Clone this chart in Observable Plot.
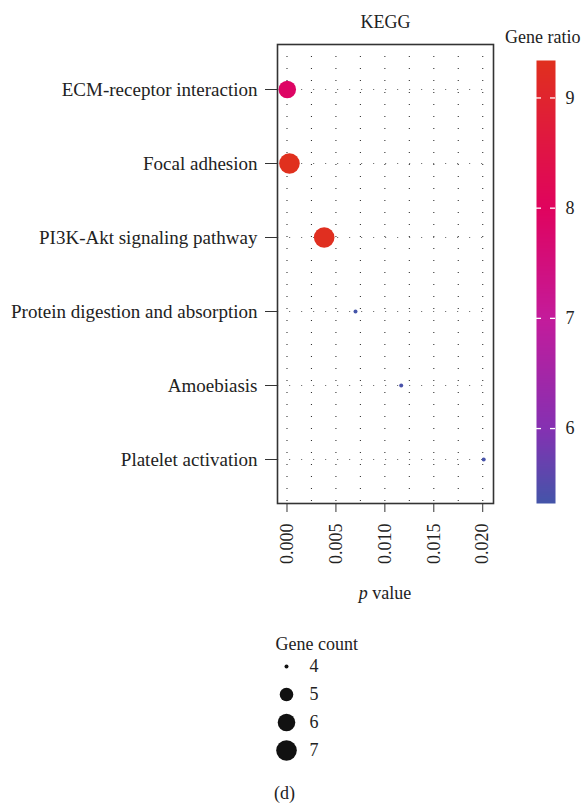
<!DOCTYPE html>
<html>
<head>
<meta charset="utf-8">
<script src="https://cdn.jsdelivr.net/npm/d3@7"></script>
<script src="https://cdn.jsdelivr.net/npm/@observablehq/plot@0.6"></script>
<style>
  body { margin: 0; background: #fff; }
  #chart { position: relative; width: 583px; height: 804px; overflow: hidden;
           font-family: "Liberation Serif", "Times New Roman", serif; color: #222; }
  #chart svg { position: absolute; overflow: visible; }
  .lbl { position: absolute; font-size: 18px; line-height: 18px; white-space: nowrap; }
</style>
</head>
<body>
<div id="chart"></div>
<script>
// KEGG enrichment: pathways, p values, gene counts and gene ratios
const pathways = [
  "ECM-receptor interaction",
  "Focal adhesion",
  "PI3K-Akt signaling pathway",
  "Protein digestion and absorption",
  "Amoebiasis",
  "Platelet activation"
];
const pValues   = [0.00003, 0.00025, 0.0038, 0.0070, 0.01167, 0.0201];
const geneCounts = [6, 7, 7, 4, 4, 4];
const geneRatios = [7.9, 9.34, 9.3, 5.32, 5.38, 5.35];

// axis ticks and grid positions
const pTicks = [0, 0.005, 0.01, 0.015, 0.02];
const pGrid = [0, 0.0025, 0.005, 0.0075, 0.01, 0.0125, 0.015, 0.0175, 0.02];
const ratioTicks = [6, 7, 8, 9];
const countKeys = [4, 5, 6, 7];

// colour ramp for gene ratio (blue → purple → magenta → red)
const ratioStops = [5.32, 6, 7, 8, 9.34];
const ratioColors = ["#4455a9", "#8531b2", "#c41b9b", "#e0035e", "#e0301e"];

const FONT = '"Liberation Serif", "Times New Roman", serif';
const rows = pathways.map((pathway, i) => ({
  pathway, p: pValues[i], count: geneCounts[i], ratio: geneRatios[i]
}));

const colorScale = {type: "linear", domain: ratioStops, range: ratioColors, interpolate: "rgb"};
// area grows with gene count, smallest key still visible
const sizeScale = {type: "sqrt", transform: c => c - 4, range: [2, 10.3]};
const baseStyle = {fontFamily: FONT, fontSize: "18px", color: "#222", background: "transparent"};

const chart = document.getElementById("chart");

// main dot plot
const main = Plot.plot({
  width: 583, height: 620,
  marginLeft: 277, marginRight: 90, marginTop: 44, marginBottom: 117,
  style: baseStyle,
  x: {domain: [-0.00097, 0.0211]},
  y: {type: "point", domain: pathways, padding: 0.6},
  color: colorScale,
  r: sizeScale,
  marks: [
    Plot.ruleX(pGrid, {stroke: "#333", strokeWidth: 1.1, strokeDasharray: "1.1 10.9"}),
    Plot.ruleY(pathways, {stroke: "#777", strokeWidth: 1.2, strokeDasharray: "1.2 10.8"}),
    Plot.frame({stroke: "#333", strokeWidth: 1.6}),
    Plot.axisX(pTicks, {tickFormat: d3.format(".3f"), tickRotate: -90, tickSize: 9, tickPadding: 11, label: null, stroke: "#333"}),
    Plot.axisY({tickSize: 12, tickPadding: 8, label: null, stroke: "#333", fontSize: 19}),
    Plot.dot(rows, {x: "p", y: "pathway", r: "count", fill: "ratio"}),
    Plot.text(["KEGG"], {frameAnchor: "top", dy: -17, lineAnchor: "bottom", fontSize: 18})
  ]
});
main.style.left = "0px";
main.style.top = "0px";
chart.appendChild(main);

// x axis title with italic p
{
  const xr = main.scale("x").range;
  const t = d3.select(main).append("text")
    .attr("x", (xr[0] + xr[1]) / 2).attr("y", 599)
    .attr("text-anchor", "middle").attr("fill", "#222")
    .style("font-size", "18px");
  t.append("tspan").attr("font-style", "italic").text("p");
  t.append("tspan").text(" value");
}

// colour bar for gene ratio
const bar = Plot.plot({
  width: 93, height: 520,
  marginLeft: 46, marginRight: 28, marginTop: 60, marginBottom: 17,
  style: baseStyle,
  x: {domain: [0, 1], axis: null},
  y: {domain: [ratioStops[0], ratioStops[ratioStops.length - 1]], axis: null},
  color: colorScale,
  marks: [
    Plot.raster({fill: (x, y) => y, x1: 0, x2: 1,
                 y1: ratioStops[0], y2: ratioStops[ratioStops.length - 1]}),
    Plot.tickY(ratioTicks, {stroke: "white", strokeWidth: 1.3, insetRight: 14}),
    Plot.tickY(ratioTicks, {stroke: "white", strokeWidth: 1.3, insetLeft: 14}),
    Plot.axisY(ratioTicks, {anchor: "right", tickSize: 0, tickPadding: 10, label: null,
                            tickFormat: d3.format("d")})
  ]
});
bar.style.left = "490px";
bar.style.top = "0px";
chart.appendChild(bar);

// size legend for gene count
const leg = Plot.plot({
  width: 360, height: 150,
  marginLeft: 286, marginRight: 0, marginTop: 45, marginBottom: 20,
  style: baseStyle,
  y: {type: "point", domain: countKeys, padding: 0, axis: null},
  r: sizeScale,
  marks: [
    Plot.dot(countKeys, {y: d => d, r: d => d, frameAnchor: "left", fill: "#111"}),
    Plot.text(countKeys, {y: d => d, text: d => String(d), frameAnchor: "left", dx: 23,
                          textAnchor: "start", fontSize: 18}),
    Plot.text(["Gene count"], {frameAnchor: "top-left", dx: -11, dy: -16,
                               textAnchor: "start", lineAnchor: "bottom", fontSize: 18})
  ]
});
leg.style.left = "0px";
leg.style.top = "620px";
chart.appendChild(leg);

// legend title and panel caption
const addLabel = (text, left, top, extra = {}) => {
  const d = document.createElement("div");
  d.className = "lbl";
  d.textContent = text;
  d.style.left = left + "px";
  d.style.top = top + "px";
  Object.assign(d.style, extra);
  chart.appendChild(d);
};
addLabel("Gene ratio", 505, 28);
addLabel("(d)", 274, 784);
</script>
</body>
</html>
